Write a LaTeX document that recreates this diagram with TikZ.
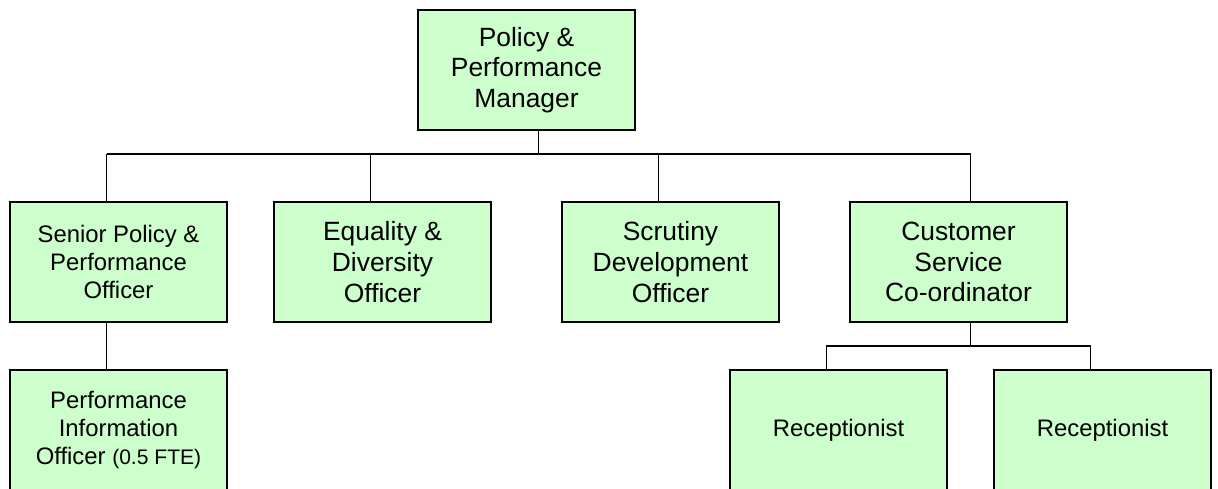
\documentclass[tikz,border=0pt]{standalone}
\usepackage{fontspec}
\setmainfont{Liberation Sans}
\usepackage{tikz}
\usetikzlibrary{positioning,calc}
\definecolor{post-green}{HTML}{CCFFCC}

\begin{document}
\begin{tikzpicture}[x=0.75pt, y=-0.75pt, line width=1pt,
    post/.style={fill=post-green, draw=black, minimum width=162.75pt, minimum height=90pt, align=center, inner sep=0pt},
    bigtext/.style={font=\fontsize{19.8}{23}\selectfont},
    midtext/.style={font=\fontsize{17.9}{21}\selectfont}]
    \clip (0,0) rectangle (1218,489);
    \useasboundingbox (0,0) rectangle (1218,489);

    \node[post, bigtext] (ppm) at (526.5, 70) {Policy \&\\Performance\\Manager};

    \node[post, midtext] (spo) at (118.5, 262) {Senior Policy \&\\Performance\\Officer};
    \node[post, bigtext] (edo) at (382.5, 262) {Equality \&\\Diversity\\Officer};
    \node[post, bigtext] (sdo) at (670.5, 262) {Scrutiny\\Development\\Officer};
    \node[post, bigtext] (csc) at (958.5, 262) {Customer\\Service\\Co-ordinator};

    \node[post, midtext] (pio) at (118.5, 430) {Performance\\Information\\Officer {\fontsize{15.8}{18}\selectfont(0.5 FTE)}};
    \node[post, midtext] (rc1) at (838.5, 430) {Receptionist};
    \node[post, midtext] (rc2) at (1102.5, 430) {Receptionist};

    % top bar
    \coordinate (bar) at (0, 154);
    \draw ([xshift=-9pt]spo.north |- bar) -- ([xshift=9pt]csc.north |- bar);
    \draw ([xshift=9pt]ppm.south) -- ([xshift=9pt]ppm.south |- bar);
    \foreach \n/\s in {spo/-9pt, edo/-9pt, sdo/-9pt, csc/9pt}
        \draw ([xshift=\s]\n.north) -- ([xshift=\s]\n.north |- bar);

    \draw ([xshift=-9pt]spo.south) -- ([xshift=-9pt]pio.north);

    % sub bar
    \coordinate (subbar) at (0, 346);
    \draw ([xshift=9pt]csc.south) -- ([xshift=9pt]csc.south |- subbar);
    \draw ([xshift=-9pt]rc1.north) |- ([xshift=-9pt]rc2.north |- subbar) -- ([xshift=-9pt]rc2.north);

\end{tikzpicture}
\end{document}
